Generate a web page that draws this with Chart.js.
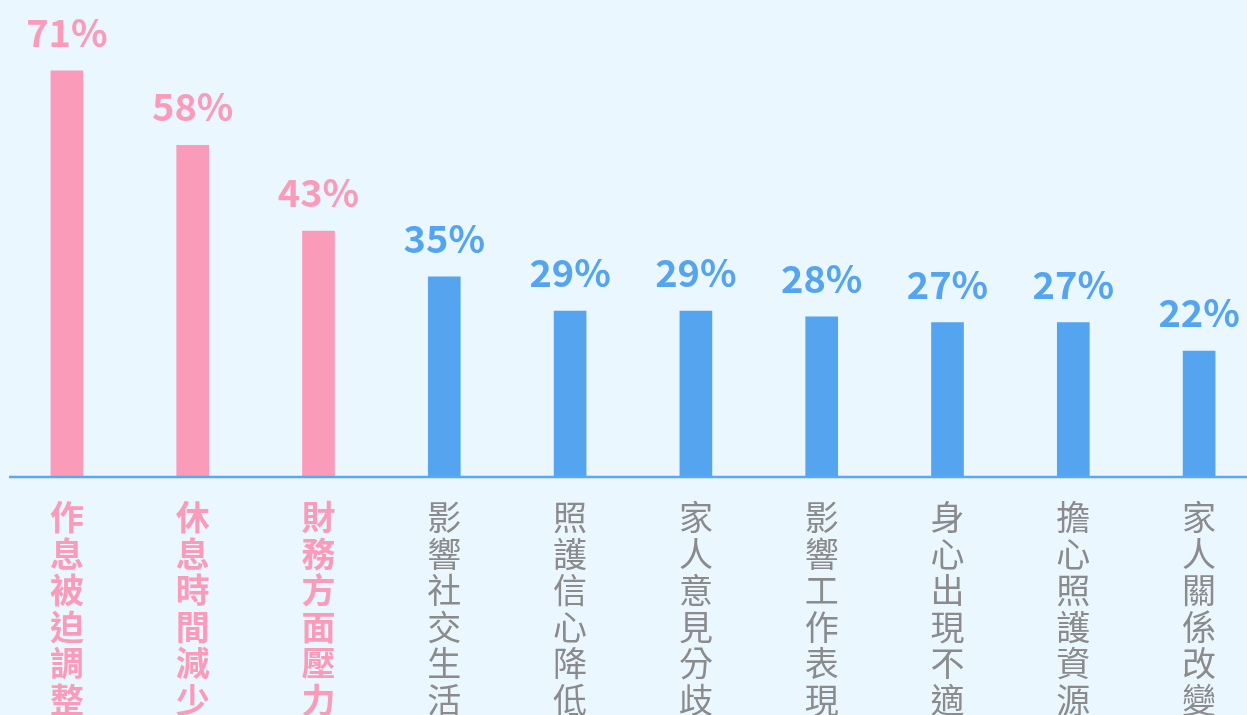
<!DOCTYPE html>
<html>
<head>
<meta charset="utf-8">
<script src="https://cdn.jsdelivr.net/npm/chart.js@4"></script>
<style>
  html, body { margin: 0; padding: 0; background: #eaf7ff; overflow: hidden; }
  #wrap { width: 1262px; height: 760px; }
</style>
</head>
<body>
<div id="wrap"><canvas id="barChart"></canvas></div>
<script>
// categories and values
const categories = ['作息被迫調整', '休息時間減少', '財務方面壓力', '影響社交生活', '照護信心降低',
    '家人意見分歧', '影響工作表現', '身心出現不適', '擔心照護資源', '家人關係改變'];
const percents = [71, 58, 43, 35, 29, 29, 28, 27, 27, 22];
// first three items are highlighted
const highlighted = [true, true, true, false, false, false, false, false, false, false];

const PINK = '#fa9bba';
const BLUE = '#55a4f0';
const GREY = '#8b8b8b';
const FONT = '"Noto Sans CJK TC", "Noto Sans", sans-serif';

// draw the % labels above each bar
const valueLabels = {
    id: 'valueLabels',
    afterDatasetsDraw(chart) {
        const ctx = chart.ctx;
        const meta = chart.getDatasetMeta(0);
        ctx.save();
        ctx.font = 'bold 38px ' + FONT;
        ctx.textAlign = 'center';
        ctx.textBaseline = 'alphabetic';
        meta.data.forEach((bar, i) => {
            ctx.fillStyle = highlighted[i] ? PINK : BLUE;
            ctx.fillText(percents[i] + '%', bar.x, bar.y - 24);
        });
        ctx.restore();
    }
};

// baseline axis line
const axisLine = {
    id: 'axisLine',
    afterDatasetsDraw(chart) {
        const ctx = chart.ctx;
        const y = chart.scales.y.getPixelForValue(0);
        ctx.save();
        ctx.strokeStyle = '#5aa8ef';
        ctx.lineWidth = 2.5;
        ctx.beginPath();
        ctx.moveTo(9, y);
        ctx.lineTo(chart.width, y);
        ctx.stroke();
        ctx.restore();
    }
};

const ctx = document.getElementById('barChart').getContext('2d');
const chart = new Chart(ctx, {
    type: 'bar',
    data: {
        labels: categories.map(c => c.split('')),
        datasets: [{
            data: percents,
            backgroundColor: highlighted.map(h => h ? PINK : BLUE),
            barThickness: 32,
            borderWidth: 0
        }]
    },
    options: {
        responsive: true,
        maintainAspectRatio: false,
        animation: false,
        layout: { padding: { left: 4, right: 0, top: 0, bottom: 0 } },
        plugins: {
            legend: { display: false },
            tooltip: { enabled: false }
        },
        scales: {
            x: {
                grid: { display: false, drawTicks: false },
                border: { display: false },
                ticks: {
                    autoSkip: false,
                    maxRotation: 0,
                    padding: 22,
                    color: c => highlighted[c.index] ? PINK : GREY,
                    font: c => ({
                        family: FONT,
                        size: 34,
                        weight: highlighted[c.index] ? 'bold' : 'normal',
                        lineHeight: '36.5px'
                    })
                },
                afterFit: scale => { scale.height = 760 - 477; }
            },
            y: {
                display: false,
                min: 0,
                max: 83.4
            }
        }
    },
    plugins: [valueLabels, axisLine]
});
</script>
</body>
</html>
